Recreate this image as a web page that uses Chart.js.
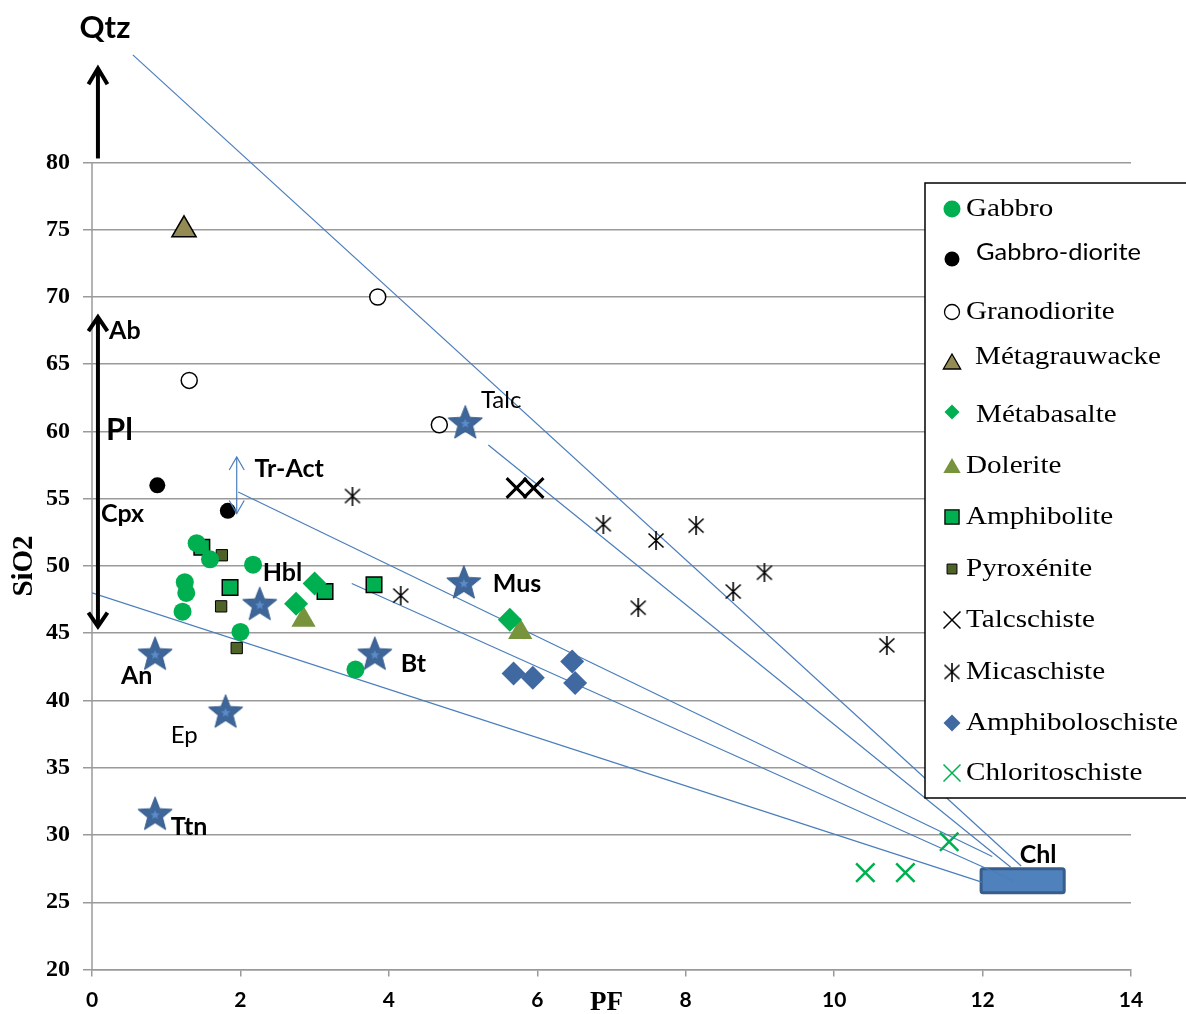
<!DOCTYPE html>
<html>
<head>
<meta charset="utf-8">
<script src="https://cdn.jsdelivr.net/npm/chart.js@4.4.0/dist/chart.umd.min.js"></script>
<style>
  body { margin: 0; background: #fff; }
  #wrap { width: 1186px; height: 1014px; }
</style>
</head>
<body>
<div id="wrap"><canvas id="myChart"></canvas></div>
<script>
// samples: [PF, SiO2]
const gabbro = [[1.41, 51.7], [1.59, 50.5], [2.17, 50.1], [1.25, 48.8], [1.27, 48.0], [1.22, 46.6], [2.0, 45.1], [3.55, 42.3]];
const gabbroDiorite = [[0.88, 56.0], [1.83, 54.1]];
const granodiorite = [[3.85, 70.0], [1.31, 63.8], [4.68, 60.5]];
const metagrauwacke = [[1.24, 75.0]];
const metabasalte = [[3.0, 48.7], [2.75, 47.2], [5.63, 46.0]];
const dolerite = [[2.85, 46.0], [5.77, 45.1]];
const amphibolite = [[1.48, 51.4], [1.86, 48.4], [3.14, 48.1], [3.80, 48.6]];
const pyroxenite = [[1.75, 50.8], [1.74, 47.0], [1.95, 43.9]];
const talcschiste = [[5.72, 55.8], [5.95, 55.8]];
const micaschiste = [[3.51, 55.2], [4.16, 47.8], [6.89, 53.1], [7.6, 51.9], [8.14, 53.0], [7.36, 46.9], [8.64, 48.1], [9.06, 49.5], [10.71, 44.1]];
const amphiboloschiste = [[5.68, 42.0], [5.94, 41.7], [6.47, 42.9], [6.51, 41.3]];
const chloritoschiste = [[10.42, 27.2], [10.96, 27.2], [11.55, 29.5]];

// minerals
const mineralNames = ['Talc', 'Mus', 'Hbl', 'An', 'Bt', 'Ep', 'Ttn'];
const mineralPts = [[5.03, 60.7], [5.01, 48.8], [2.26, 47.2], [0.85, 43.5], [3.81, 43.5], [1.80, 39.2], [0.85, 31.6]];

// tie lines towards chlorite
const tieLines = [
  [[0.55, 88.0], [12.52, 27.7]],
  [[5.34, 59.0], [12.38, 27.6]],
  [[1.97, 55.5], [12.13, 28.4]],
  [[3.50, 48.7], [12.42, 26.6]],
  [[0.0, 48.0], [11.99, 26.5]]
];
const chlBox = [[11.98, 25.7], [13.1, 27.5]];

// arrows: x, from, to
const qtzArrow = [0.08, 80.3, 87.0];
const plArrow = [0.08, 45.5, 68.5];
const trActArrow = [1.95, 53.9, 58.1];

const yTicks = [20, 25, 30, 35, 40, 45, 50, 55, 60, 65, 70, 75, 80];

const toXY = arr => arr.map(p => ({ x: p[0], y: p[1] }));

// custom markers
function makeStar() {
  const c = document.createElement('canvas');
  c.width = 38; c.height = 38;
  const g = c.getContext('2d');
  const star = (cx, cy, R, r) => {
    g.beginPath();
    for (let i = 0; i < 10; i++) {
      const a = -Math.PI / 2 + i * Math.PI / 5;
      const rr = i % 2 ? r : R;
      g.lineTo(cx + rr * Math.cos(a), cy + rr * Math.sin(a));
    }
    g.closePath();
  };
  star(19, 20.5, 18, 7.8);
  g.fillStyle = '#3E6699'; g.fill();
  g.strokeStyle = '#335a8c'; g.lineWidth = 1; g.stroke();
  star(19, 20.5, 5, 2.2);
  g.fillStyle = '#5b8bc9'; g.fill();
  return c;
}
function makeAsterisk() {
  const c = document.createElement('canvas');
  c.width = 18; c.height = 19;
  const g = c.getContext('2d');
  g.strokeStyle = '#000'; g.lineWidth = 1.6;
  g.beginPath();
  g.moveTo(1.5, 2.5); g.lineTo(16.5, 16.5);
  g.moveTo(16.5, 2.5); g.lineTo(1.5, 16.5);
  g.moveTo(9, 0); g.lineTo(9, 19);
  g.stroke();
  return c;
}
const starImg = makeStar();
const asteriskImg = makeAsterisk();

const lineColor = '#4A7EBB';

function pts(label, data, style, radius, bg, border, bw) {
  return {
    type: 'scatter', label: label, data: toXY(data), order: 0,
    pointStyle: style, pointRadius: radius, pointHoverRadius: radius,
    pointBackgroundColor: bg, pointBorderColor: border, pointBorderWidth: bw
  };
}

const datasets = [
  pts('Gabbro', gabbro, 'circle', 9, '#00B050', '#00B050', 0),
  pts('Gabbro-diorite', gabbroDiorite, 'circle', 8, '#000', '#000', 0),
  pts('Granodiorite', granodiorite, 'circle', 8, '#fff', '#000', 1.5),
  pts('Métagrauwacke', metagrauwacke, 'triangle', 14, '#948A54', '#000', 1.5),
  pts('Métabasalte', metabasalte, 'rectRot', 12, '#00B050', '#00B050', 0),
  pts('Dolerite', dolerite, 'triangle', 14, '#77933C', '#77933C', 0),
  pts('Amphibolite', amphibolite, 'rect', 11, '#00B050', '#000', 1.5),
  pts('Pyroxénite', pyroxenite, 'rect', 8, '#4F6228', '#000', 1),
  pts('Talcschiste', talcschiste, 'crossRot', 14, '#000', '#000', 3),
  pts('Micaschiste', micaschiste, asteriskImg, 9, '#000', '#000', 1.5),
  pts('Amphiboloschiste', amphiboloschiste, 'rectRot', 12, '#4069A2', '#4069A2', 0),
  pts('Chloritoschiste', chloritoschiste, 'crossRot', 13, '#00B050', '#00B050', 2.5),
  pts('Minéraux', mineralPts, starImg, 18, '#3E6699', '#3E6699', 0)
];
tieLines.forEach((l, i) => {
  datasets.push({
    type: 'line', label: 'ligne' + i, data: toXY(l), order: 5,
    borderColor: lineColor, borderWidth: 1.2, pointRadius: 0, fill: false
  });
});

// legend layout (pixels) and legend marker sizes
const legendItems = [
  { i: 0, ty: 209, my: 209, tx: 966, r: 8.5, bw: 0 },
  { i: 1, ty: 252, my: 259, tx: 976, r: 7.5, bw: 0, sans: true },
  { i: 2, ty: 312, my: 312, tx: 966, r: 7.5, bw: 1.3 },
  { i: 3, ty: 357, my: 364, tx: 975, r: 10, bw: 1.3 },
  { i: 4, ty: 415, my: 412, tx: 976, r: 7.5, bw: 0 },
  { i: 5, ty: 466, my: 468, tx: 966, r: 10, bw: 0 },
  { i: 6, ty: 517, my: 517, tx: 966, r: 10, bw: 1.3 },
  { i: 7, ty: 569, my: 569, tx: 966, r: 7, bw: 1 },
  { i: 8, ty: 620, my: 620, tx: 966, r: 12, bw: 1.5 },
  { i: 9, ty: 672, my: 672, tx: 966, r: 8, bw: 1.5 },
  { i: 10, ty: 723, my: 723, tx: 966, r: 8.5, bw: 0 },
  { i: 11, ty: 773, my: 773, tx: 966, r: 12, bw: 1.5 }
];

// text labels in data coordinates
const textLabels = [
  { t: 'Qtz', x: 0.175, y: 90.0, size: 31, bold: true, align: 'center' },
  { t: 'Ab', x: 0.23, y: 67.5, size: 25, bold: true },
  { t: 'Pl', x: 0.19, y: 60.1, size: 31, bold: true },
  { t: 'Cpx', x: 0.12, y: 53.9, size: 25, bold: true },
  { t: 'Tr-Act', x: 2.19, y: 57.2, size: 25, bold: true },
  { t: 'Hbl', x: 2.30, y: 49.5, size: 25, bold: true },
  { t: 'Talc', x: 5.24, y: 62.3, size: 24, bold: false },
  { t: 'Mus', x: 5.40, y: 48.7, size: 25, bold: true },
  { t: 'An', x: 0.39, y: 41.8, size: 25, bold: true },
  { t: 'Bt', x: 4.16, y: 42.7, size: 25, bold: true },
  { t: 'Ep', x: 1.06, y: 37.4, size: 24, bold: false },
  { t: 'Ttn', x: 1.06, y: 30.6, size: 25, bold: true },
  { t: 'Chl', x: 12.5, y: 28.55, size: 25, bold: true }
];

function drawArrow(ctx, x, yA, yB, both, color, width, hw, hh) {
  ctx.save();
  ctx.strokeStyle = color;
  ctx.lineWidth = width;
  ctx.lineJoin = 'miter';
  ctx.beginPath();
  ctx.moveTo(x, yA); ctx.lineTo(x, yB);
  ctx.stroke();
  ctx.beginPath();
  ctx.moveTo(x - hw, yB + hh); ctx.lineTo(x, yB); ctx.lineTo(x + hw, yB + hh);
  if (both) {
    ctx.moveTo(x - hw, yA - hh); ctx.lineTo(x, yA); ctx.lineTo(x + hw, yA - hh);
  }
  ctx.stroke();
  ctx.restore();
}

const extras = {
  id: 'extras',
  beforeDatasetsDraw(chart) {
    const ctx = chart.ctx, sx = chart.scales.x, sy = chart.scales.y;
    // y axis line only over 20..80
    ctx.save();
    ctx.strokeStyle = '#9A9A9A'; ctx.lineWidth = 1.5;
    ctx.beginPath();
    ctx.moveTo(sx.getPixelForValue(0), sy.getPixelForValue(20));
    ctx.lineTo(sx.getPixelForValue(0), sy.getPixelForValue(80));
    ctx.stroke();
    // chlorite box
    const x0 = sx.getPixelForValue(chlBox[0][0]), x1 = sx.getPixelForValue(chlBox[1][0]);
    const y0 = sy.getPixelForValue(chlBox[1][1]), y1 = sy.getPixelForValue(chlBox[0][1]);
    ctx.beginPath();
    ctx.roundRect(x0, y0, x1 - x0, y1 - y0, 2);
    ctx.fillStyle = '#4F81BD'; ctx.fill();
    ctx.strokeStyle = '#385D8A'; ctx.lineWidth = 3; ctx.stroke();
    ctx.restore();
  },
  afterDraw(chart) {
    const ctx = chart.ctx, sx = chart.scales.x, sy = chart.scales.y;
    // arrows
    drawArrow(ctx, sx.getPixelForValue(qtzArrow[0]), sy.getPixelForValue(qtzArrow[1]), sy.getPixelForValue(qtzArrow[2]), false, '#000', 4, 9.5, 16);
    drawArrow(ctx, sx.getPixelForValue(plArrow[0]), sy.getPixelForValue(plArrow[1]), sy.getPixelForValue(plArrow[2]), true, '#000', 4, 9.5, 14);
    drawArrow(ctx, sx.getPixelForValue(trActArrow[0]), sy.getPixelForValue(trActArrow[1]), sy.getPixelForValue(trActArrow[2]), true, lineColor, 1.2, 7.5, 13);

    // labels
    ctx.save();
    ctx.fillStyle = '#000';
    ctx.textBaseline = 'middle';
    textLabels.forEach(l => {
      ctx.font = (l.bold ? 'bold ' : '') + l.size + 'px Lato, "Open Sans", sans-serif';
      ctx.textAlign = l.align || 'left';
      ctx.fillText(l.t, sx.getPixelForValue(l.x), sy.getPixelForValue(l.y));
    });

    // axis titles
    ctx.font = 'bold 27px "Liberation Serif", "Times New Roman", serif';
    ctx.textAlign = 'center';
    ctx.fillText('PF', sx.getPixelForValue(7) - 5, 1003);
    ctx.save();
    ctx.translate(25, (sy.getPixelForValue(20) + sy.getPixelForValue(80)) / 2);
    ctx.rotate(-Math.PI / 2);
    ctx.font = 'bold 29px "Liberation Serif", "Times New Roman", serif';
    ctx.fillText('SiO2', 0, 0);
    ctx.restore();

    // legend box
    ctx.fillStyle = '#fff';
    ctx.fillRect(925, 183, 270, 615);
    ctx.strokeStyle = '#000'; ctx.lineWidth = 1.5;
    ctx.strokeRect(925, 183, 270, 615);
    legendItems.forEach(it => {
      const ds = chart.data.datasets[it.i];
      ctx.save();
      ctx.fillStyle = ds.pointBackgroundColor;
      ctx.strokeStyle = ds.pointBorderColor;
      ctx.lineWidth = it.bw;
      Chart.helpers.drawPoint(ctx, { pointStyle: ds.pointStyle, radius: it.r, rotation: 0, borderWidth: it.bw }, 952, it.my);
      ctx.restore();
      ctx.save();
      ctx.fillStyle = '#000';
      ctx.textAlign = 'left';
      ctx.textBaseline = 'middle';
      ctx.translate(it.tx, it.ty);
      if (it.sans) {
        ctx.font = '24px Lato, "Open Sans", sans-serif';
        ctx.scale(1.06, 1);
      } else {
        ctx.font = '26px "Liberation Serif", "Times New Roman", serif';
        ctx.scale(1.12, 1);
      }
      ctx.fillText(ds.label, 0, 0);
      ctx.restore();
    });
    ctx.restore();
  }
};

const config = {
  data: { datasets: datasets },
  options: {
    responsive: true,
    maintainAspectRatio: false,
    animation: false,
    layout: { padding: { top: 28, right: 55, left: 0, bottom: 0 } },
    plugins: {
      legend: { display: false },
      tooltip: { enabled: false }
    },
    scales: {
      x: {
        type: 'linear', min: 0, max: 14,
        ticks: { stepSize: 2, color: '#000', padding: 11, font: { family: 'Lato', weight: 'bold', size: 21 } },
        grid: { drawOnChartArea: false, drawTicks: true, tickLength: 7, color: '#9A9A9A', lineWidth: 1.5 },
        border: { color: '#9A9A9A', width: 1.5 },
        afterFit: s => { s.height = 44.5; }
      },
      y: {
        type: 'linear', min: 20, max: 90,
        afterBuildTicks: s => { s.ticks = yTicks.map(v => ({ value: v })); },
        ticks: { color: '#000', padding: 13, font: { family: '"Liberation Serif"', weight: 'bold', size: 24 } },
        grid: { color: '#9A9A9A', lineWidth: 1.5, tickLength: 9 },
        border: { display: false },
        afterFit: s => { s.width = 92; }
      }
    }
  },
  plugins: [extras]
};

window.onload = function() {
  const ctx = document.getElementById('myChart').getContext('2d');
  const myChart = new Chart(ctx, config);
};
</script>
</body>
</html>
